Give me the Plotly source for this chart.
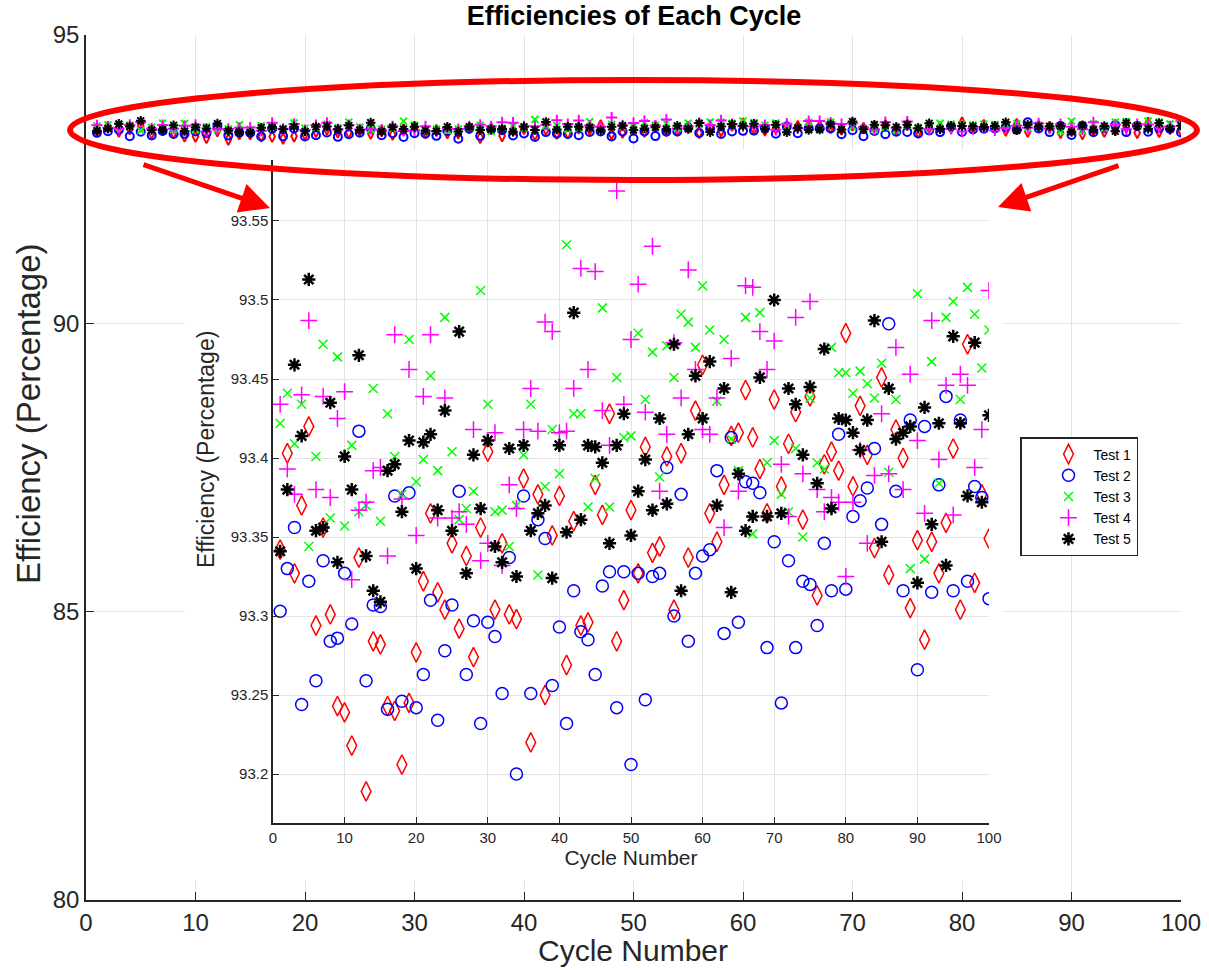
import plotly.graph_objects as go

W, H = 1209, 970

cycles = list(range(1, 101))

test1 = [93.342, 93.403, 93.327, 93.370, 93.420, 93.294, 93.356, 93.301, 93.243, 93.239,
         93.218, 93.337, 93.189, 93.284, 93.282, 93.243, 93.240, 93.206, 93.245, 93.277,
         93.322, 93.365, 93.315, 93.304, 93.346, 93.292, 93.338, 93.274, 93.356, 93.404,
         93.304, 93.346, 93.301, 93.298, 93.387, 93.220, 93.377, 93.250, 93.351, 93.376,
         93.269, 93.360, 93.294, 93.296, 93.383, 93.364, 93.428, 93.284, 93.310, 93.367,
         93.327, 93.407, 93.340, 93.344, 93.401, 93.304, 93.403, 93.337, 93.430, 93.459,
         93.365, 93.347, 93.383, 93.414, 93.416, 93.443, 93.413, 93.393, 93.365, 93.437,
         93.382, 93.409, 93.429, 93.361, 93.439, 93.313, 93.396, 93.404, 93.392, 93.479,
         93.382, 93.433, 93.402, 93.343, 93.451, 93.326, 93.418, 93.400, 93.305, 93.348,
         93.285, 93.347, 93.327, 93.359, 93.406, 93.304, 93.472, 93.321, 93.377, 93.349]

test2 = [93.303, 93.330, 93.356, 93.244, 93.322, 93.259, 93.335, 93.284, 93.286, 93.327,
         93.295, 93.417, 93.259, 93.307, 93.306, 93.241, 93.376, 93.246, 93.378, 93.242,
         93.263, 93.310, 93.234, 93.278, 93.307, 93.379, 93.263, 93.297, 93.232, 93.296,
         93.287, 93.251, 93.337, 93.200, 93.376, 93.251, 93.361, 93.349, 93.256, 93.293,
         93.232, 93.316, 93.290, 93.285, 93.263, 93.319, 93.328, 93.242, 93.328, 93.206,
         93.327, 93.247, 93.325, 93.327, 93.394, 93.300, 93.377, 93.284, 93.327, 93.338,
         93.342, 93.392, 93.289, 93.413, 93.296, 93.385, 93.384, 93.378, 93.280, 93.347,
         93.245, 93.335, 93.280, 93.322, 93.320, 93.294, 93.346, 93.316, 93.415, 93.317,
         93.363, 93.373, 93.381, 93.406, 93.358, 93.485, 93.379, 93.316, 93.424, 93.266,
         93.420, 93.315, 93.383, 93.439, 93.316, 93.424, 93.322, 93.382, 93.375, 93.311]

test3 = [93.422, 93.441, 93.409, 93.434, 93.344, 93.401, 93.472, 93.362, 93.464, 93.357,
         93.408, 93.366, 93.370, 93.444, 93.360, 93.428, 93.401, 93.377, 93.475, 93.385,
         93.399, 93.452, 93.392, 93.489, 93.404, 93.361, 93.368, 93.379, 93.506, 93.434,
         93.366, 93.367, 93.344, 93.370, 93.402, 93.434, 93.326, 93.382, 93.418, 93.390,
         93.535, 93.428, 93.428, 93.369, 93.387, 93.495, 93.369, 93.451, 93.413, 93.414,
         93.479, 93.437, 93.467, 93.388, 93.471, 93.451, 93.491, 93.486, 93.470, 93.509,
         93.481, 93.436, 93.475, 93.412, 93.392, 93.489, 93.352, 93.492, 93.397, 93.411,
         93.377, 93.366, 93.406, 93.350, 93.438, 93.397, 93.393, 93.470, 93.454, 93.454,
         93.441, 93.455, 93.447, 93.438, 93.460, 93.391, 93.437, 93.416, 93.330, 93.504,
         93.336, 93.461, 93.384, 93.489, 93.499, 93.437, 93.508, 93.491, 93.457, 93.481]

test4 = [93.434, 93.393, 93.377, 93.440, 93.487, 93.380, 93.439, 93.375, 93.425, 93.442,
         93.323, 93.367, 93.372, 93.392, 93.394, 93.338, 93.478, 93.374, 93.456, 93.351,
         93.439, 93.478, 93.362, 93.438, 93.362, 93.366, 93.358, 93.418, 93.335, 93.346,
         93.416, 93.332, 93.383, 93.368, 93.418, 93.444, 93.417, 93.486, 93.480, 93.416,
         93.417, 93.444, 93.520, 93.456, 93.518, 93.430, 93.408, 93.569, 93.434, 93.475,
         93.510, 93.429, 93.534, 93.379, 93.415, 93.473, 93.438, 93.519, 93.456, 93.418,
         93.415, 93.438, 93.356, 93.463, 93.379, 93.509, 93.508, 93.480, 93.456, 93.474,
         93.396, 93.363, 93.489, 93.390, 93.499, 93.380, 93.366, 93.375, 93.372, 93.325,
         93.372, 93.405, 93.346, 93.389, 93.428, 93.390, 93.470, 93.380, 93.453, 93.411,
         93.365, 93.487, 93.399, 93.446, 93.364, 93.453, 93.446, 93.394, 93.418, 93.506]

test5 = [93.341, 93.380, 93.459, 93.414, 93.513, 93.354, 93.356, 93.435, 93.334, 93.401,
         93.380, 93.465, 93.338, 93.316, 93.309, 93.392, 93.396, 93.366, 93.411, 93.330,
         93.410, 93.415, 93.367, 93.430, 93.354, 93.480, 93.327, 93.402, 93.368, 93.411,
         93.344, 93.334, 93.406, 93.325, 93.408, 93.354, 93.365, 93.370, 93.324, 93.408,
         93.353, 93.492, 93.361, 93.408, 93.407, 93.397, 93.346, 93.408, 93.428, 93.351,
         93.379, 93.399, 93.367, 93.425, 93.371, 93.472, 93.316, 93.415, 93.452, 93.425,
         93.461, 93.370, 93.444, 93.315, 93.390, 93.354, 93.363, 93.451, 93.363, 93.500,
         93.365, 93.444, 93.434, 93.402, 93.445, 93.384, 93.469, 93.368, 93.425, 93.424,
         93.416, 93.405, 93.424, 93.487, 93.347, 93.444, 93.412, 93.416, 93.420, 93.321,
         93.432, 93.358, 93.422, 93.332, 93.477, 93.422, 93.376, 93.473, 93.372, 93.427]

names = ["Test 1", "Test 2", "Test 3", "Test 4", "Test 5"]
series = [test1, test2, test3, test4, test5]
colors = ["#ff0000", "#0000ff", "#00ff00", "#ff00ff", "#000000"]
symbols = ["diamond-tall-open", "circle-open", "x-thin-open", "cross-thin-open", "asterisk-open"]
inset_sizes = [14, 12, 9, 12, 11]
main_sizes = [8, 8, 7, 8, 8]
inset_lw = [1.5, 1.5, 1.5, 1.5, 2.5]

main_ticks = [0, 10, 20, 30, 40, 50, 60, 70, 80, 90, 100]
main_yticks = [80, 85, 90, 95]
inset_yticks = [93.2, 93.25, 93.3, 93.35, 93.4, 93.45, 93.5, 93.55]
inset_ylabels = ["93.2", "93.25", "93.3", "93.35", "93.4", "93.45", "93.5", "93.55"]

FONT = "Liberation Sans, Arial, sans-serif"
AX = "#262626"
GRID = "#e3e3e3"

def px(x):
    return x / W

def py(y):
    return 1 - y / H

fig = go.Figure()

# main chart traces
for n, s, c, sym, sz in zip(names, series, colors, symbols, main_sizes):
    fig.add_trace(go.Scatter(
        x=cycles, y=s, mode="markers", name=n, showlegend=False,
        marker=dict(symbol=sym, size=sz, color=c, line=dict(color=c, width=2)),
        xaxis="x", yaxis="y"))

# white cover behind inset (empty subplot)
fig.add_trace(go.Scatter(x=[], y=[], xaxis="x2", yaxis="y2", showlegend=False))

# inset traces
for n, s, c, sym, sz, lw in zip(names, series, colors, symbols, inset_sizes, inset_lw):
    fig.add_trace(go.Scatter(
        x=cycles, y=s, mode="markers", name=n,
        marker=dict(symbol=sym, size=sz, color=c, line=dict(color=c, width=lw)),
        xaxis="x3", yaxis="y3"))

fig.update_layout(
    width=W, height=H,
    margin=dict(l=0, r=0, t=0, b=0, autoexpand=False),
    paper_bgcolor="white", plot_bgcolor="white",
    font=dict(family=FONT, color=AX),
    title=dict(text="<b>Efficiencies of Each Cycle</b>", x=px(634), y=py(16),
               xanchor="center", yanchor="middle",
               font=dict(family=FONT, size=27, color="black")),
    xaxis=dict(domain=[px(86), px(1181)], range=[0, 100], tickvals=main_ticks,
               showgrid=True, gridcolor=GRID, gridwidth=1, zeroline=False,
               showline=True, linecolor=AX, linewidth=1.5,
               ticks="inside", ticklen=8, tickcolor=AX,
               tickfont=dict(size=24, color=AX), anchor="y"),
    yaxis=dict(domain=[py(900), py(35)], range=[80, 95], tickvals=main_yticks,
               showgrid=True, gridcolor=GRID, gridwidth=1, zeroline=False,
               showline=True, linecolor=AX, linewidth=1.5,
               ticks="inside", ticklen=8, tickcolor=AX,
               tickfont=dict(size=24, color=AX), anchor="x"),
    xaxis2=dict(domain=[px(185), px(1003)], range=[0, 1], visible=False, anchor="y2"),
    yaxis2=dict(domain=[py(880), py(150)], range=[0, 1], visible=False, anchor="x2"),
    xaxis3=dict(domain=[px(273), px(989)], range=[0, 100], tickvals=main_ticks,
                showgrid=True, gridcolor=GRID, gridwidth=1, zeroline=False,
                showline=True, linecolor=AX, linewidth=1.5,
                ticks="inside", ticklen=6, tickcolor=AX,
                tickfont=dict(size=15, color=AX),
                title=dict(text="Cycle Number", font=dict(size=21, color=AX), standoff=0),
                anchor="y3"),
    yaxis3=dict(domain=[py(823), py(160)], range=[93.169, 93.5886],
                tickvals=inset_yticks, ticktext=inset_ylabels,
                showgrid=True, gridcolor=GRID, gridwidth=1, zeroline=False,
                showline=True, linecolor=AX, linewidth=1.5,
                ticks="inside", ticklen=6, tickcolor=AX,
                tickfont=dict(size=15, color=AX),
                anchor="x3"),
    legend=dict(x=px(1020), y=py(437), xanchor="left", yanchor="top",
                bgcolor="white", bordercolor=AX, borderwidth=1.5,
                font=dict(size=14, color="black"), itemwidth=40, indentation=22,
                tracegroupgap=0),
    showlegend=True,
)

# axis titles placed as text annotations
fig.add_annotation(x=px(633), y=py(950), xref="paper", yref="paper",
                   text="Cycle Number", showarrow=False,
                   font=dict(family=FONT, size=30, color=AX),
                   xanchor="center", yanchor="middle")
fig.add_annotation(x=px(28), y=py(414), xref="paper", yref="paper",
                   text="Efficiency (Percentage)", showarrow=False, textangle=-90,
                   font=dict(family=FONT, size=33, color=AX),
                   xanchor="center", yanchor="middle")
fig.add_annotation(x=px(206), y=py(450), xref="paper", yref="paper",
                   text="Efficiency (Percentage)", showarrow=False, textangle=-90,
                   font=dict(family=FONT, size=23, color=AX),
                   xanchor="center", yanchor="middle")

# red ellipse highlighting the data band
fig.add_shape(type="circle", xref="paper", yref="paper",
              x0=px(70), x1=px(1197), y0=py(180), y1=py(80),
              line=dict(color="#ff0000", width=6), layer="above")

# arrows pointing to the zoomed inset
fig.add_annotation(x=px(270), y=py(208), xref="paper", yref="paper", text="",
                   showarrow=True, ax=-128, ay=-44, arrowhead=2, arrowsize=1.2,
                   arrowwidth=5, arrowcolor="#ff0000", standoff=0)
fig.add_annotation(x=px(998), y=py(207), xref="paper", yref="paper", text="",
                   showarrow=True, ax=122, ay=-42, arrowhead=2, arrowsize=1.2,
                   arrowwidth=5, arrowcolor="#ff0000", standoff=0)

fig.write_html("out.html")
